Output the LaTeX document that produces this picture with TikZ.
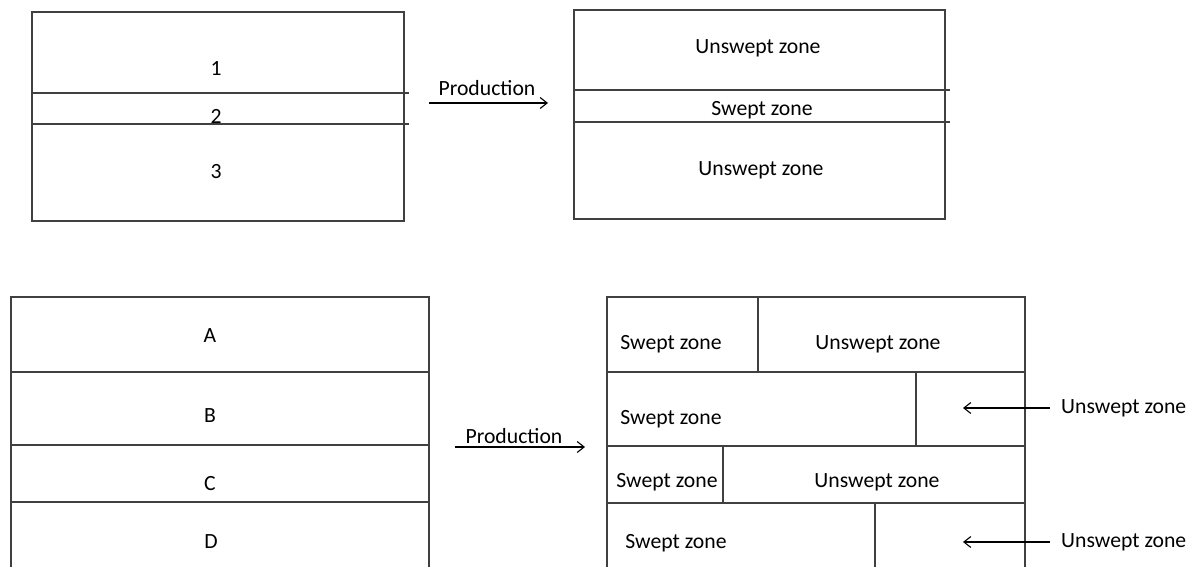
\documentclass[tikz,border=0pt]{standalone}
\usepackage{fontspec}
\setmainfont{Carlito}
\usetikzlibrary{arrows.meta}
\begin{document}
\begin{tikzpicture}[x=1pt, y=-1pt, >={Straight Barb[length=7pt, width=11pt]},
        every node/.style={inner sep=0pt, font=\fontsize{21.7}{26}\selectfont},
        zone/.style={draw=black!75, line width=1.3pt},
        flow/.style={->, line width=1.1pt}]
        % ==== CANVAS ====
        \useasboundingbox (0,0) rectangle (1194,567);

        % ==== TOP LEFT: LAYERS 1, 2, 3 ====
        \draw[zone] (32,12) rectangle (404,221);
        \draw[zone] (31,93) -- (409,93);
        \draw[zone] (31,124) -- (409,124);
        \node (one) at (216,69) {1};
        \node (two) at (216,116) {2};
        \node (three) at (216,172) {3};

        % ==== TOP ARROW ====
        \node (prodtop) at (487,88) {Production};
        \coordinate (prodtopA) at (429,103);
        \coordinate (prodtopB) at (548,103);
        \draw[flow] (prodtopA) -- (prodtopB);

        % ==== TOP RIGHT: ZONES ====
        \draw[zone] (574,10) rectangle (945,219);
        \draw[zone] (573,90) -- (950,90);
        \draw[zone] (573,122) -- (950,122);
        \node (uztop) at (758,48) {Unswept zone};
        \node (szmid) at (762,110) {Swept zone};
        \node (uzbot) at (761,170) {Unswept zone};

        % ==== BOTTOM LEFT: LAYERS A, B, C, D ====
        \draw[zone] (11,567) -- (11,297) -- (429,297) -- (429,567);
        \draw[zone] (11,372) -- (429,372);
        \draw[zone] (11,445) -- (429,445);
        \draw[zone] (11,502) -- (429,502);
        \node (layA) at (210,336) {A};
        \node (layB) at (210,416) {B};
        \node (layC) at (210,484) {C};
        \node (layD) at (211,542) {D};

        % ==== BOTTOM ARROW ====
        \node (prodbot) at (514,436) {Production};
        \coordinate (prodbotA) at (455,447);
        \coordinate (prodbotB) at (585,447);
        \draw[flow] (prodbotA) -- (prodbotB);

        % ==== BOTTOM RIGHT: ZONES PER LAYER ====
        \draw[zone] (607,567) -- (607,297) -- (1025,297) -- (1025,567);
        \draw[zone] (607,372) -- (1025,372);
        \draw[zone] (607,446) -- (1025,446);
        \draw[zone] (607,503) -- (1025,503);
        \draw[zone] (758,297) -- (758,372);
        \draw[zone] (916,372) -- (916,446);
        \draw[zone] (723,446) -- (723,503);
        \draw[zone] (875,503) -- (875,567);
        \node (szA) at (671,344) {Swept zone};
        \node (uzA) at (878,344) {Unswept zone};
        \node (szB) at (671,419) {Swept zone};
        \node (szC) at (667,482) {Swept zone};
        \node (uzC) at (877,482) {Unswept zone};
        \node (szD) at (676,543) {Swept zone};

        % ==== OUTSIDE LABELS ====
        \node[anchor=west] (uzB) at (1061,408) {Unswept zone};
        \node[anchor=west] (uzD) at (1061,542) {Unswept zone};
        \coordinate (uzBtip) at (963,408);
        \coordinate (uzDtip) at (963,542);
        \draw[flow, shorten <=11pt] (uzB.west) -- (uzBtip);
        \draw[flow, shorten <=11pt] (uzD.west) -- (uzDtip);

    \end{tikzpicture}
\end{document}
